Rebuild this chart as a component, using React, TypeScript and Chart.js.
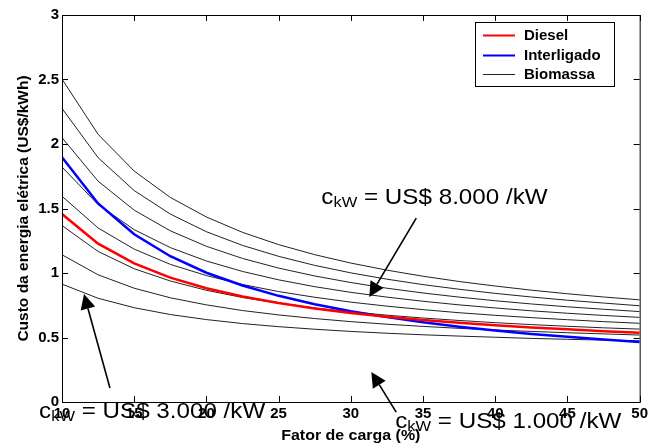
import { useEffect, useRef } from 'react';
import { Chart, registerables } from 'chart.js';

Chart.register(...registerables);

// ---- data ----
const loadFactor = [10, 12.5, 15, 17.5, 20, 22.5, 25, 27.5, 30, 32.5, 35, 37.5, 40, 42.5, 45, 47.5, 50];

const diesel = [1.457, 1.227, 1.074, 0.964, 0.882, 0.818, 0.767, 0.725, 0.690, 0.661, 0.636, 0.614, 0.595, 0.578, 0.563, 0.549, 0.537];
const interligado = [1.897, 1.539, 1.300, 1.130, 1.002, 0.903, 0.823, 0.758, 0.704, 0.658, 0.618, 0.584, 0.555, 0.528, 0.505, 0.484, 0.465];

const biomassa1 = [0.914, 0.804, 0.731, 0.678, 0.639, 0.608, 0.584, 0.564, 0.547, 0.533, 0.521, 0.511, 0.502, 0.493, 0.486, 0.480, 0.474];
const biomassa2 = [1.141, 0.986, 0.882, 0.808, 0.753, 0.709, 0.675, 0.647, 0.623, 0.603, 0.586, 0.571, 0.558, 0.547, 0.537, 0.528, 0.519];
const biomassa3 = [1.368, 1.167, 1.033, 0.938, 0.866, 0.810, 0.766, 0.729, 0.699, 0.673, 0.651, 0.632, 0.615, 0.600, 0.587, 0.575, 0.565];
const biomassa4 = [1.595, 1.349, 1.185, 1.067, 0.980, 0.911, 0.856, 0.812, 0.774, 0.743, 0.716, 0.692, 0.672, 0.654, 0.638, 0.623, 0.610];
const biomassa5 = [1.822, 1.530, 1.336, 1.197, 1.093, 1.012, 0.947, 0.894, 0.850, 0.813, 0.781, 0.753, 0.729, 0.707, 0.688, 0.671, 0.656];
const biomassa6 = [2.049, 1.712, 1.487, 1.327, 1.207, 1.113, 1.038, 0.977, 0.926, 0.882, 0.845, 0.813, 0.785, 0.760, 0.738, 0.719, 0.701];
const biomassa7 = [2.276, 1.894, 1.639, 1.457, 1.320, 1.214, 1.129, 1.059, 1.001, 0.952, 0.910, 0.874, 0.842, 0.814, 0.789, 0.767, 0.746];
const biomassa8 = [2.503, 2.075, 1.790, 1.586, 1.434, 1.315, 1.220, 1.142, 1.077, 1.022, 0.975, 0.934, 0.899, 0.867, 0.839, 0.814, 0.792];

const biomassaSeries = [biomassa1, biomassa2, biomassa3, biomassa4, biomassa5, biomassa6, biomassa7, biomassa8];

const xTickValues = [10, 15, 20, 25, 30, 35, 40, 45, 50];
const xTickLabels = ['10', '15', '20', '25', '30', '35', '40', '45', '50'];
const yTickValues = [0, 0.5, 1, 1.5, 2, 2.5, 3];
const yTickLabels = ['0', '0.5', '1', '1.5', '2', '2.5', '3'];

const xTitle = 'Fator de carga (%)';
const yTitle = 'Custo da energia elétrica (US$/kWh)';

// annotation texts (cost) with arrow tail/head and text anchor, in data coordinates
const annotationCosts = ['8.000', '3.000', '1.000'];
const annotationTextAt = [[27.96, 1.535], [8.41, -0.124], [33.07, -0.202]];
const annotationArrowFrom = [[34.53, 1.426], [13.32, 0.109], [33.14, -0.078]];
const annotationArrowTo = [[31.28, 0.814], [11.52, 0.837], [31.42, 0.233]];

const FONT = '"Liberation Sans", Arial, Helvetica, sans-serif';

const toPoints = (arr: number[]) => loadFactor.map((x, i) => ({ x, y: arr[i] }));

function drawArrow(ctx: CanvasRenderingContext2D, x0: number, y0: number, x1: number, y1: number) {
  const ang = Math.atan2(y1 - y0, x1 - x0);
  const L = 15;
  const H = 7.5;
  const bx = x1 - L * Math.cos(ang);
  const by = y1 - L * Math.sin(ang);
  ctx.beginPath();
  ctx.moveTo(x0, y0);
  ctx.lineTo(bx, by);
  ctx.lineWidth = 1.6;
  ctx.strokeStyle = '#000';
  ctx.stroke();
  ctx.beginPath();
  ctx.moveTo(x1, y1);
  ctx.lineTo(bx + H * Math.sin(ang), by - H * Math.cos(ang));
  ctx.lineTo(bx - H * Math.sin(ang), by + H * Math.cos(ang));
  ctx.closePath();
  ctx.fillStyle = '#000';
  ctx.fill();
}

function drawCkw(ctx: CanvasRenderingContext2D, px: number, py: number, value: string) {
  ctx.save();
  ctx.translate(px, py);
  ctx.scale(1.1, 1);
  ctx.fillStyle = '#000';
  ctx.textAlign = 'left';
  ctx.textBaseline = 'alphabetic';
  ctx.font = `22px ${FONT}`;
  ctx.fillText('c', 0, 0);
  let w = ctx.measureText('c').width;
  ctx.font = `15px ${FONT}`;
  ctx.fillText('kW', w, 3);
  w += ctx.measureText('kW').width;
  ctx.font = `22px ${FONT}`;
  ctx.fillText(` = US$ ${value} /kW`, w, 0);
  ctx.restore();
}

const overlayPlugin = {
  id: 'overlay',
  afterDraw(chart: any) {
    const { ctx, chartArea: a, scales } = chart;
    const xs = scales.x;
    const ys = scales.y;
    ctx.save();

    // frame
    ctx.strokeStyle = '#000';
    ctx.lineWidth = 1;
    ctx.strokeRect(a.left + 0.5, a.top + 0.5, a.right - a.left, a.bottom - a.top);

    // inward ticks on all four sides
    const TL = 6;
    ctx.beginPath();
    xs.ticks.forEach((t: any) => {
      const px = Math.round(xs.getPixelForValue(t.value)) + 0.5;
      ctx.moveTo(px, a.bottom);
      ctx.lineTo(px, a.bottom - TL);
      ctx.moveTo(px, a.top);
      ctx.lineTo(px, a.top + TL);
    });
    ys.ticks.forEach((t: any) => {
      const py = Math.round(ys.getPixelForValue(t.value)) + 0.5;
      ctx.moveTo(a.left, py);
      ctx.lineTo(a.left + TL, py);
      ctx.moveTo(a.right, py);
      ctx.lineTo(a.right - TL, py);
    });
    ctx.stroke();

    // axis titles
    ctx.fillStyle = '#000';
    ctx.save();
    ctx.translate((a.left + a.right) / 2, 440);
    ctx.scale(1.1, 1);
    ctx.font = `bold 14.5px ${FONT}`;
    ctx.textAlign = 'center';
    ctx.textBaseline = 'alphabetic';
    ctx.fillText(xTitle, 0, 0);
    ctx.restore();

    ctx.save();
    ctx.translate(28, (a.top + a.bottom) / 2);
    ctx.rotate(-Math.PI / 2);
    ctx.font = `bold 15.5px ${FONT}`;
    ctx.textAlign = 'center';
    ctx.textBaseline = 'alphabetic';
    ctx.fillText(yTitle, 0, 0);
    ctx.restore();

    // legend
    const seen: string[] = [];
    const entries: any[] = [];
    chart.data.datasets.forEach((d: any) => {
      if (!seen.includes(d.label)) {
        seen.push(d.label);
        entries.push(d);
      }
    });
    const lx = 475.5, ly = 22.5, lw = 139, lh = 64;
    ctx.fillStyle = '#fff';
    ctx.fillRect(lx, ly, lw, lh);
    ctx.strokeStyle = '#000';
    ctx.lineWidth = 1;
    ctx.strokeRect(lx, ly, lw, lh);
    entries.forEach((d, i) => {
      const cy = 35 + i * 19.5;
      ctx.beginPath();
      ctx.moveTo(483, Math.round(cy) + 0.5);
      ctx.lineTo(515, Math.round(cy) + 0.5);
      ctx.strokeStyle = d.borderColor;
      ctx.lineWidth = d.borderWidth > 1 ? 2 : 1;
      ctx.stroke();
      ctx.fillStyle = '#000';
      ctx.font = `bold 15px ${FONT}`;
      ctx.textAlign = 'left';
      ctx.textBaseline = 'middle';
      ctx.fillText(d.label, 524, cy + 1);
    });

    // annotations
    annotationCosts.forEach((cost, i) => {
      const [fx, fy] = annotationArrowFrom[i];
      const [tx, ty] = annotationArrowTo[i];
      drawArrow(ctx, xs.getPixelForValue(fx), ys.getPixelForValue(fy), xs.getPixelForValue(tx), ys.getPixelForValue(ty));
      const [ax, ay] = annotationTextAt[i];
      drawCkw(ctx, xs.getPixelForValue(ax), ys.getPixelForValue(ay), cost);
    });

    ctx.restore();
  },
};

export default function App() {
  const canvasRef = useRef<HTMLCanvasElement | null>(null);

  useEffect(() => {
    const canvas = canvasRef.current;
    if (!canvas) return;

    const datasets: any[] = [
      { label: 'Diesel', data: toPoints(diesel), borderColor: '#ff0000', borderWidth: 2.5 },
      { label: 'Interligado', data: toPoints(interligado), borderColor: '#0000ff', borderWidth: 2.5 },
      ...biomassaSeries.map((s) => ({ label: 'Biomassa', data: toPoints(s), borderColor: '#222222', borderWidth: 1 })),
    ].map((d) => ({ ...d, pointRadius: 0, tension: 0, fill: false, backgroundColor: d.borderColor }));

    const tickFont = { family: FONT, size: 15, weight: 'bold' as const };

    const chart = new Chart(canvas, {
      type: 'line',
      data: { datasets },
      options: {
        responsive: false,
        devicePixelRatio: 1,
        animation: false,
        layout: { padding: { top: 15, right: 10, left: 0, bottom: 0 } },
        plugins: { legend: { display: false }, tooltip: { enabled: false } },
        scales: {
          x: {
            type: 'linear',
            min: 10,
            max: 50,
            afterFit: (s: any) => { s.height = 44; },
            afterBuildTicks: (s: any) => { s.ticks = xTickValues.map((v) => ({ value: v })); },
            ticks: {
              color: '#000',
              font: tickFont,
              padding: 3,
              maxRotation: 0,
              autoSkip: false,
              callback: (v: any) => {
                const i = xTickValues.findIndex((t) => Math.abs(t - Number(v)) < 1e-9);
                return i >= 0 ? xTickLabels[i] : '';
              },
            },
            grid: { display: false, drawTicks: false },
            border: { display: false },
          },
          y: {
            type: 'linear',
            min: 0,
            max: 3,
            afterFit: (s: any) => { s.width = 62; },
            afterBuildTicks: (s: any) => { s.ticks = yTickValues.map((v) => ({ value: v })); },
            ticks: {
              color: '#000',
              font: tickFont,
              padding: 3,
              autoSkip: false,
              callback: (v: any) => {
                const i = yTickValues.findIndex((t) => Math.abs(t - Number(v)) < 1e-9);
                return i >= 0 ? yTickLabels[i] : '';
              },
            },
            grid: { display: false, drawTicks: false },
            border: { display: false },
          },
        },
      },
      plugins: [overlayPlugin],
    });

    return () => chart.destroy();
  }, []);

  return (
    <div style={{ position: 'fixed', left: 0, top: 0, width: 651, height: 446, background: '#fff' }}>
      <canvas ref={canvasRef} width={651} height={446} style={{ display: 'block', width: 651, height: 446 }} />
    </div>
  );
}
